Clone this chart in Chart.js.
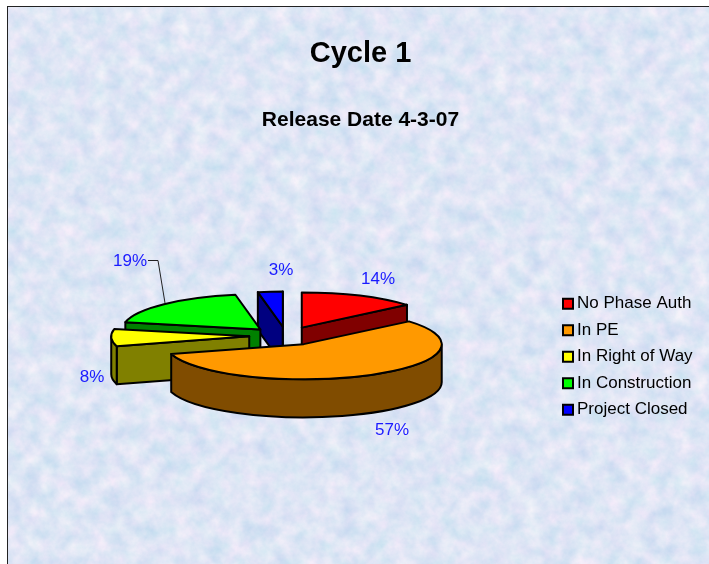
<!DOCTYPE html>
<html>
<head>
<meta charset="utf-8">
<title>Cycle 1</title>
<style>
  html, body { margin: 0; padding: 0; background: #fff; overflow: hidden; }
  #frame { position: absolute; left: 7px; top: 6px; width: 702px; height: 558px; border-left: 1px solid #222; border-top: 1px solid #222; box-sizing: border-box; }
  #frame svg { display: block; }
  #chart { position: absolute; left: 0; top: 0; }
</style>
<script src="https://cdn.jsdelivr.net/npm/chart.js@4"></script>
</head>
<body>
<div id="frame">
  <svg width="702" height="558">
    <filter id="marble" x="0" y="0" width="100%" height="100%" color-interpolation-filters="sRGB">
      <feTurbulence type="fractalNoise" baseFrequency="0.06" numOctaves="5" seed="7"/>
      <feColorMatrix type="matrix" values="0.24 0 0 0 0.75  0.10 0.06 0 0 0.82  0.05 0 0 0 0.935  0 0 0 0 1"/>
    </filter>
    <rect width="702" height="558" filter="url(#marble)"/>
  </svg>
</div>
<canvas id="chart" width="709" height="564"></canvas>
<script>
const categories = ["No Phase Auth", "In PE", "In Right of Way", "In Construction", "Project Closed"];
const shares = [13.8, 56.7, 7.8, 18.8, 2.9];
const topColors = ["#ff0000", "#ff9900", "#ffff00", "#00ff00", "#0000ff"];
const sideColors = ["#800000", "#804c00", "#808000", "#008000", "#000080"];
const titleText = "Cycle 1";
const subtitleText = "Release Date 4-3-07";

const fontName = "'Liberation Sans', Arial, sans-serif";
const squash = 0.255;
const depth = 38;
const drawOrder = [4, 0, 3, 2, 1];

// where each percent label sits, in page pixels
const labelSpots = [[378, 279], [392, 430], [92, 377], [130, 261], [281, 270]];

function arcGeometry(arc) {
  const p = arc.getProps(["x", "y", "startAngle", "endAngle", "outerRadius"], true);
  const mid = (p.startAngle + p.endAngle) / 2;
  const push = (arc.options.offset || 0) / 4;
  return {
    cx: p.x + Math.cos(mid) * push,
    cy: p.y + Math.sin(mid) * push * 0.25,
    a0: p.startAngle,
    a1: p.endAngle,
    r: p.outerRadius,
  };
}

function cutFace(ctx, g, angle, color) {
  const ex = g.cx + Math.cos(angle) * g.r;
  const ey = g.cy + Math.sin(angle) * g.r * squash;
  ctx.beginPath();
  ctx.moveTo(g.cx, g.cy);
  ctx.lineTo(ex, ey);
  ctx.lineTo(ex, ey + depth);
  ctx.lineTo(g.cx, g.cy + depth);
  ctx.closePath();
  ctx.fillStyle = color;
  ctx.fill();
  ctx.stroke();
}

function drawSlice(ctx, arc, i) {
  const g = arcGeometry(arc);
  const ry = g.r * squash;
  ctx.lineWidth = arc.options.borderWidth;
  ctx.strokeStyle = arc.options.borderColor;
  ctx.lineJoin = "round";

  // only the cut faces turned toward the viewer
  if (Math.sin(g.a0 - Math.PI / 2) > 0) cutFace(ctx, g, g.a0, sideColors[i]);
  if (Math.sin(g.a1 + Math.PI / 2) > 0) cutFace(ctx, g, g.a1, sideColors[i]);

  // rim, front half only
  const w0 = Math.max(g.a0, 0);
  const w1 = Math.min(g.a1, Math.PI);
  if (w1 > w0) {
    ctx.beginPath();
    ctx.ellipse(g.cx, g.cy, g.r, ry, 0, w0, w1);
    ctx.ellipse(g.cx, g.cy + depth, g.r, ry, 0, w1, w0, true);
    ctx.closePath();
    ctx.fillStyle = sideColors[i];
    ctx.fill();
    ctx.stroke();
  }

  // top
  ctx.beginPath();
  ctx.moveTo(g.cx, g.cy);
  ctx.ellipse(g.cx, g.cy, g.r, ry, 0, g.a0, g.a1);
  ctx.closePath();
  ctx.fillStyle = arc.options.backgroundColor;
  ctx.fill();
  ctx.stroke();
}

const pie3d = {
  id: "pie3d",
  afterLayout(chart) {
    // titles centre on 360, legend block moved to its place
    chart.boxes.forEach((b) => {
      if (b.position === "top") {
        const shift = 360.5 - (b.left + b.right) / 2;
        b.left += shift;
        b.right += shift;
      }
    });
    const lg = chart.legend;
    const w = lg.right - lg.left;
    const h = lg.bottom - lg.top;
    lg.left = 558;
    lg.right = lg.left + w;
    lg.top = 285.75;
    lg.bottom = lg.top + h;
  },
  beforeDatasetsDraw(chart) {
    const ctx = chart.ctx;
    const arcs = chart.getDatasetMeta(0).data;
    ctx.save();
    drawOrder.forEach((i) => drawSlice(ctx, arcs[i], i));
    ctx.restore();

    ctx.save();
    ctx.font = "17px " + fontName;
    ctx.fillStyle = "#1a1aff";
    ctx.textAlign = "center";
    ctx.textBaseline = "middle";
    shares.forEach((v, i) => {
      ctx.fillText(Math.round(v) + "%", labelSpots[i][0], labelSpots[i][1]);
    });
    // leader line for 19%
    ctx.strokeStyle = "#222";
    ctx.lineWidth = 1;
    ctx.beginPath();
    ctx.moveTo(148, 260.5);
    ctx.lineTo(158, 260.5);
    ctx.lineTo(165, 303);
    ctx.stroke();
    ctx.restore();
    return false;
  },
};

new Chart(document.getElementById("chart"), {
  type: "pie",
  data: {
    labels: categories,
    datasets: [
      {
        data: shares,
        backgroundColor: topColors,
        borderColor: "#000000",
        borderWidth: 2,
        offset: 148,
        radius: 138,
      },
    ],
  },
  options: {
    responsive: false,
    animation: false,
    events: [],
    layout: { padding: { left: 8, right: 0, top: 0, bottom: 33.2 } },
    plugins: {
      tooltip: { enabled: false },
      title: {
        display: true,
        text: titleText,
        color: "#000",
        font: { family: fontName, size: 29, weight: "bold" },
        padding: { top: 37, bottom: 18 },
      },
      subtitle: {
        display: true,
        text: subtitleText,
        color: "#000",
        font: { family: fontName, size: 21, weight: "bold" },
        padding: { top: 18.2, bottom: 8 },
      },
      legend: {
        position: "right",
        align: "start",
        labels: {
          usePointStyle: true,
          pointStyle: "rect",
          boxWidth: 1,
          boxHeight: 10,
          padding: 9.5,
          color: "#000",
          font: { family: fontName, size: 17 },
        },
      },
    },
  },
  plugins: [pie3d],
});
</script>
</body>
</html>
